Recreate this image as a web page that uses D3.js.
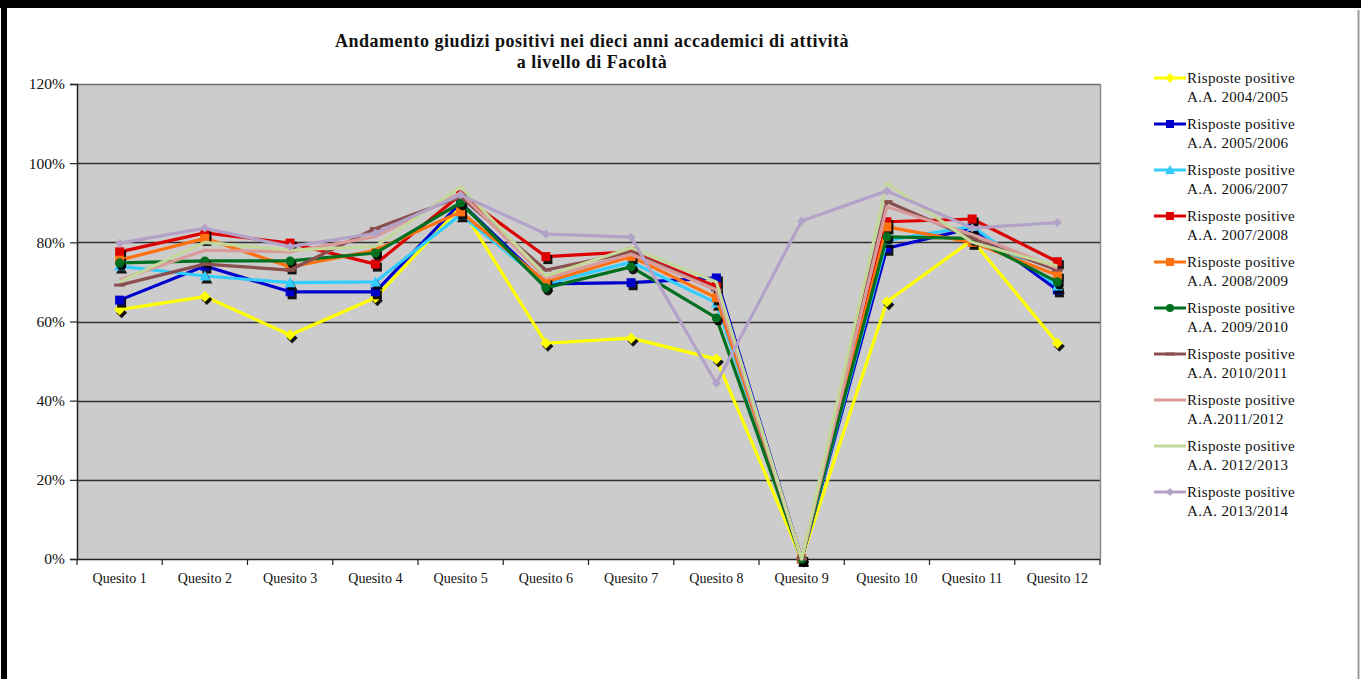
<!DOCTYPE html>
<html>
<head>
<meta charset="utf-8">
<script src="https://cdn.jsdelivr.net/npm/d3@7/dist/d3.min.js"></script>
<style>
  html, body { margin: 0; padding: 0; background: #fff; }
  svg { display: block; }
  text { font-family: "Liberation Serif", "DejaVu Serif", serif; fill: #111; }
</style>
</head>
<body>
<svg id="chart" width="1361" height="679"></svg>
<script>
// ---------------- DATA ----------------
const categories = ["Quesito 1","Quesito 2","Quesito 3","Quesito 4","Quesito 5","Quesito 6",
                    "Quesito 7","Quesito 8","Quesito 9","Quesito 10","Quesito 11","Quesito 12"];
const yTicks = [0, 0.2, 0.4, 0.6, 0.8, 1.0, 1.2];

const seriesNames = [
  ["Risposte positive", "A.A. 2004/2005"],
  ["Risposte positive", "A.A. 2005/2006"],
  ["Risposte positive", "A.A. 2006/2007"],
  ["Risposte positive", "A.A. 2007/2008"],
  ["Risposte positive", "A.A. 2008/2009"],
  ["Risposte positive", "A.A. 2009/2010"],
  ["Risposte positive", "A.A. 2010/2011"],
  ["Risposte positive", "A.A.2011/2012"],
  ["Risposte positive", "A.A. 2012/2013"],
  ["Risposte positive", "A.A. 2013/2014"]
];

const aa2004 = [0.630, 0.663, 0.566, 0.660, 0.890, 0.545, 0.558, 0.505, 0.000, 0.650, 0.806, 0.545];
const aa2005 = [0.654, 0.740, 0.675, 0.675, 0.900, 0.695, 0.698, 0.710, 0.000, 0.785, 0.836, 0.680];
const aa2006 = [0.740, 0.715, 0.698, 0.700, 0.870, 0.695, 0.750, 0.647, 0.000, 0.805, 0.840, 0.690];
const aa2007 = [0.776, 0.824, 0.798, 0.745, 0.920, 0.764, 0.776, 0.688, 0.000, 0.852, 0.859, 0.751];
const aa2008 = [0.755, 0.810, 0.738, 0.780, 0.877, 0.700, 0.764, 0.660, 0.000, 0.839, 0.800, 0.717];
const aa2009 = [0.748, 0.753, 0.753, 0.773, 0.900, 0.685, 0.738, 0.609, 0.000, 0.814, 0.810, 0.700];
const aa2010 = [0.692, 0.745, 0.730, 0.835, 0.915, 0.730, 0.775, 0.680, 0.000, 0.903, 0.810, 0.730];
const aa2011 = [0.705, 0.780, 0.776, 0.814, 0.925, 0.710, 0.770, 0.680, 0.000, 0.890, 0.820, 0.735];
const aa2012 = [0.700, 0.800, 0.780, 0.790, 0.940, 0.715, 0.786, 0.700, 0.000, 0.950, 0.800, 0.740];
const aa2013 = [0.798, 0.836, 0.789, 0.823, 0.920, 0.821, 0.813, 0.444, 0.854, 0.930, 0.836, 0.850];

const seriesValues = [aa2004, aa2005, aa2006, aa2007, aa2008, aa2009, aa2010, aa2011, aa2012, aa2013];
const seriesColors = ["#FFFF00", "#0000CC", "#33CCFF", "#DD0000", "#FF7010",
                      "#007020", "#8A5050", "#D99A9A", "#C4D79B", "#B3A2C7"];
const seriesMarkers = ["diamond", "square", "triangle", "square", "square",
                       "circle", "dash", "none", "none", "diamond"];

// ---------------- LAYOUT ----------------
const svg = d3.select("#chart");
const W = 1361, H = 679;
const plot = { left: 77, right: 1100, top: 84, bottom: 559 };

// outer frame
svg.append("rect").attr("x", 0).attr("y", 0).attr("width", W).attr("height", 8).attr("fill", "#000");
svg.append("rect").attr("x", 1).attr("y", 0).attr("width", 6).attr("height", H).attr("fill", "#000");
svg.append("line").attr("x1", 1358.5).attr("x2", 1358.5).attr("y1", 10).attr("y2", H)
   .attr("stroke", "#9a9a9a").attr("stroke-width", 2);

const x = d3.scaleBand().domain(categories).range([plot.left, plot.right]).padding(0);
const y = d3.scaleLinear().domain([0, 1.2]).range([plot.bottom, plot.top]);
const cx = c => x(c) + x.bandwidth() / 2;

// plot area background
svg.append("rect")
  .attr("x", plot.left).attr("y", plot.top)
  .attr("width", plot.right - plot.left).attr("height", plot.bottom - plot.top)
  .attr("fill", "#CCCCCC");

// gridlines
svg.append("g")
  .selectAll("line").data(yTicks.filter(t => t > 0)).join("line")
  .attr("x1", plot.left).attr("x2", plot.right)
  .attr("y1", d => Math.round(y(d)) + 0.5).attr("y2", d => Math.round(y(d)) + 0.5)
  .attr("stroke", d => d === 1.2 ? "#707070" : "#303030").attr("stroke-width", 1.5);

// right edge of plot
svg.append("line").attr("x1", plot.right + 0.5).attr("x2", plot.right + 0.5)
  .attr("y1", plot.top).attr("y2", plot.bottom).attr("stroke", "#8a8a8a").attr("stroke-width", 1.5);

// y axis
const yAxis = d3.axisLeft(y).tickValues(yTicks).tickSize(7).tickPadding(5)
  .tickFormat(d => Math.round(d * 100) + "%");
const gy = svg.append("g").attr("transform", `translate(${plot.left},0)`).call(yAxis);
gy.select(".domain").attr("stroke", "#222").attr("stroke-width", 1.5);
gy.selectAll(".tick line").attr("stroke", "#222").attr("stroke-width", 1.2);
gy.selectAll("text").style("font-size", "15.5px").attr("fill", "#111")
  .style("font-family", "'Liberation Serif', serif");

// x axis (ticks between categories)
const gx = svg.append("g").attr("transform", `translate(0,${plot.bottom})`);
gx.append("line").attr("x1", plot.left).attr("x2", plot.right).attr("y1", 0.5).attr("y2", 0.5)
  .attr("stroke", "#222").attr("stroke-width", 1.5);
const bounds = categories.map(c => x(c)).concat([plot.right]);
gx.selectAll("line.tk").data(bounds).join("line").attr("class", "tk")
  .attr("x1", d => d).attr("x2", d => d).attr("y1", 0).attr("y2", 6)
  .attr("stroke", "#222").attr("stroke-width", 1.2);
gx.selectAll("text").data(categories).join("text")
  .attr("x", d => cx(d)).attr("y", 24).attr("text-anchor", "middle")
  .style("font-size", "14px").text(d => d);

// ---------------- SERIES ----------------
function markerPath(type, size) {
  const s = size / 2;
  switch (type) {
    case "diamond": return `M0,${-s-1}L${s+1},0L0,${s+1}L${-s-1},0Z`;
    case "square": return `M${-s},${-s}H${s}V${s}H${-s}Z`;
    case "triangle": return `M0,${-s-1}L${s+1},${s}L${-s-1},${s}Z`;
    case "circle": return d3.symbol(d3.symbolCircle, size * size * 0.8)();
    case "dash": return `M${-s-1},-1.5H${s+1}V1.5H${-s-1}Z`;
    default: return null;
  }
}

const line = d3.line().x((d, i) => cx(categories[i])).y(d => y(d));
const layer = svg.append("g");

seriesValues.forEach((vals, k) => {
  const col = seriesColors[k];
  layer.append("path").datum(vals).attr("d", line)
    .attr("fill", "none").attr("stroke", col).attr("stroke-width", 3.2)
    .attr("stroke-linejoin", "round");
  const mt = seriesMarkers[k];
  if (mt !== "none") {
    const size = (k === 9) ? 7 : 9;
    const p = markerPath(mt, size);
    const g = layer.append("g");
    if (k !== 9 && mt !== "dash") {
      g.selectAll("path.sh").data(vals).join("path").attr("class", "sh")
        .attr("d", p).attr("fill", "#000").attr("opacity", 0.9)
        .attr("transform", (d, i) => `translate(${cx(categories[i]) + 2},${y(d) + 3})`);
    }
    g.selectAll("path.mk").data(vals).join("path").attr("class", "mk")
      .attr("d", p).attr("fill", col)
      .attr("transform", (d, i) => `translate(${cx(categories[i])},${y(d)})`);
  }
});

// ---------------- TITLE ----------------
const title = svg.append("text").attr("x", 592).attr("text-anchor", "middle")
  .style("font-size", "18px").style("font-weight", "bold").style("letter-spacing", "0.5px");
title.append("tspan").attr("x", 592).attr("y", 47).text("Andamento giudizi positivi nei dieci anni accademici di attività");
title.append("tspan").attr("x", 592).attr("y", 68).text("a livello di Facoltà");

// ---------------- LEGEND ----------------
const legend = svg.append("g");
seriesNames.forEach((nm, k) => {
  const ly = 78 + k * 46;
  const col = seriesColors[k];
  const g = legend.append("g").attr("transform", `translate(0,${ly})`);
  g.append("line").attr("x1", 1154).attr("x2", 1186).attr("y1", 0).attr("y2", 0)
    .attr("stroke", col).attr("stroke-width", 3);
  const mt = seriesMarkers[k];
  if (mt !== "none") {
    const size = (k === 9) ? 6 : 8;
    g.append("path").attr("d", markerPath(mt, size)).attr("fill", col)
      .attr("transform", "translate(1170,0)");
  }
  const t = g.append("text").style("font-size", "15px").style("letter-spacing", "0.3px");
  t.append("tspan").attr("x", 1187).attr("y", 5).text(nm[0]);
  t.append("tspan").attr("x", 1187).attr("y", 24).text(nm[1]);
});
</script>
</body>
</html>
